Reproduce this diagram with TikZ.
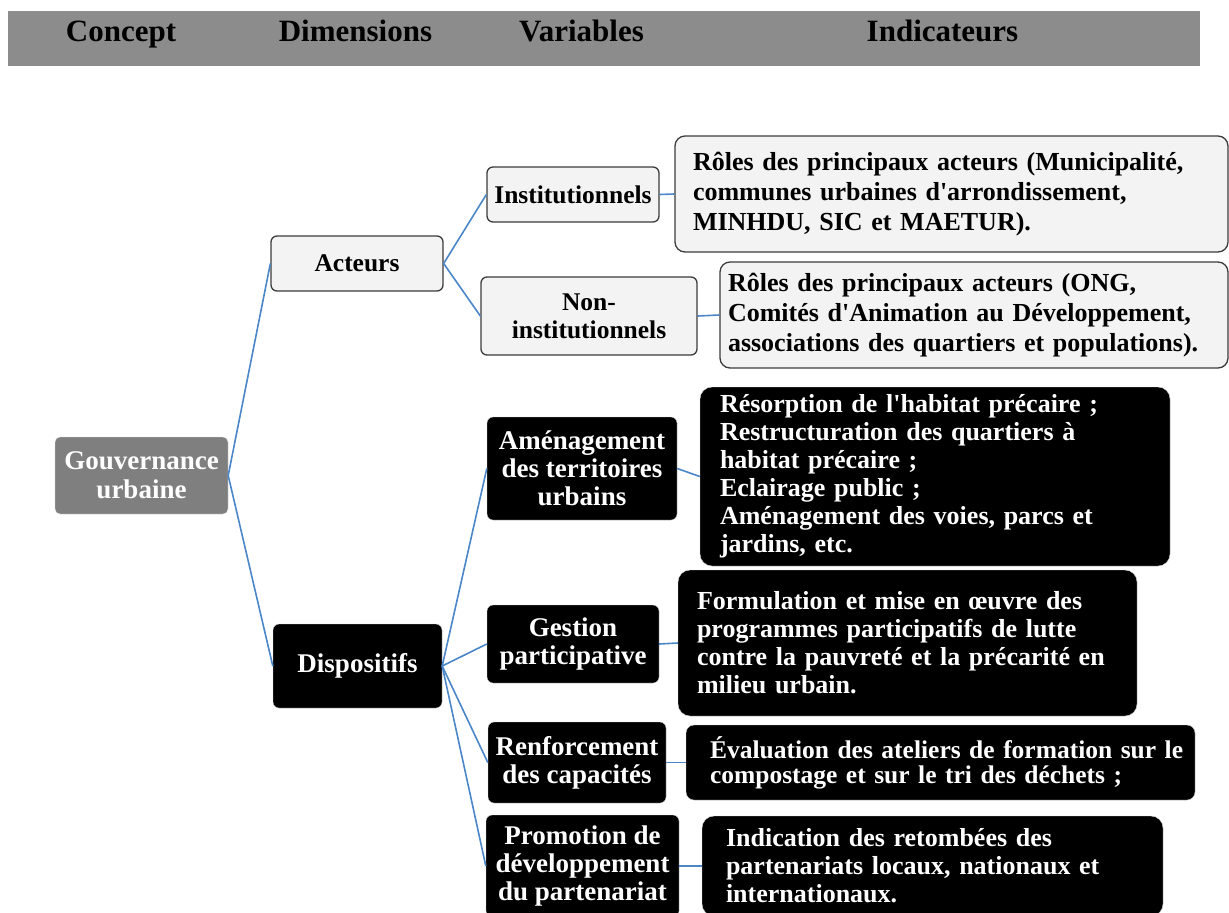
\documentclass[tikz,border=0pt]{standalone}
\usepackage{fontspec}
\setmainfont{Liberation Serif}
\usepackage{tikz}
\usetikzlibrary{positioning}
\usepackage{xcolor}
\definecolor{HeadGray}{RGB}{140,140,140}
\definecolor{ConceptGray}{RGB}{127,127,127}
\definecolor{LightFill}{RGB}{243,243,243}
\definecolor{EdgeGray}{RGB}{60,60,60}
\definecolor{LinkBlue}{RGB}{74,134,200}

\begin{document}
\begin{tikzpicture}[x=1pt,y=-1pt,
  head/.style={anchor=base,font=\fontsize{31}{34}\selectfont\bfseries},
  concept/.style={fill=ConceptGray,draw=white!88!black,rounded corners=5pt,text=white,
                  align=center,inner sep=0pt,font=\fontsize{27}{29}\selectfont\bfseries},
  varlight/.style={fill=LightFill,draw=EdgeGray,line width=1.3pt,rounded corners=6pt,
                   align=center,inner sep=0pt,font=\fontsize{25.5}{28}\selectfont\bfseries},
  vardark/.style={fill=black,draw=white!85!black,rounded corners=6pt,text=white,
                  align=center,inner sep=0pt,font=\fontsize{27}{28}\selectfont\bfseries},
  indlight/.style={fill=LightFill,draw=EdgeGray,line width=1.3pt,rounded corners=10pt,
                   align=left,inner ysep=0pt,font=\fontsize{26}{30}\selectfont\bfseries},
  inddark/.style={fill=black,draw=white!85!black,rounded corners=12pt,text=white,
                  align=left,inner ysep=0pt,font=\fontsize{26}{28}\selectfont\bfseries},
  link/.style={draw=LinkBlue,line width=1.6pt}
]
\useasboundingbox (0,0) rectangle (1229,913);
\fill[HeadGray] (8,11) rectangle (1200,66);
\node[head] (hconcept) at (121,41) {Concept};
\node[head] (hdim) at (355.5,41) {Dimensions};
\node[head] (hvar) at (581.5,41) {Variables};
\node[head] (hind) at (942.5,41) {Indicateurs};

\node[concept,minimum width=173pt,minimum height=77pt] (gouv) at (141.5,475.5) {Gouvernance\\urbaine};

\node[varlight,minimum width=172pt,minimum height=55pt] (acteurs) at (357,263.5) {Acteurs};
\node[vardark,minimum width=169pt,minimum height=84pt] (disp) at (357.5,666) {Dispositifs};

\node[varlight,minimum width=172pt,minimum height=55pt] (inst) at (573,194.5) {Institutionnels};
\node[varlight,minimum width=216pt,minimum height=78pt] (noninst) at (589,316) {Non-\\institutionnels};
\node[vardark,minimum width=190pt,minimum height=103pt] (amen) at (582,468.5) {Aménagement\\des territoires\\urbains};
\node[vardark,minimum width=172pt,minimum height=78pt] (gest) at (573,644) {Gestion\\participative};
\node[vardark,minimum width=178pt,minimum height=81pt] (renf) at (577,762.5) {Renforcement\\des capacités};
\node[vardark,minimum width=193pt,minimum height=102pt] (promo) at (582.5,866) {Promotion de\\développement\\du partenariat};

\node[indlight,inner xsep=18pt,text width=517pt,minimum height=116pt] (roles1) at (951.5,194)
  {Rôles des principaux acteurs (Municipalité,\\communes urbaines d\textquotesingle arrondissement,\\MINHDU, SIC et MAETUR).};
\node[indlight,inner xsep=8pt,text width=492pt,minimum height=106pt] (roles2) at (974,315)
  {Rôles des principaux acteurs (ONG,\\Comités d\textquotesingle Animation au Développement,\\associations des quartiers et populations).};
\node[inddark,inner xsep=20pt,text width=430pt,minimum height=179pt] (resorp) at (935,476.5)
  {Résorption de l\textquotesingle habitat précaire ;\\Restructuration des quartiers à\\habitat précaire ;\\Eclairage public ;\\Aménagement des voies, parcs et\\jardins, etc.};
\node[inddark,inner xsep=19pt,text width=421pt,minimum height=146pt] (formu) at (907.5,643)
  {Formulation et mise en œuvre des\\programmes participatifs de lutte\\contre la pauvreté et la précarité en\\milieu urbain.};
\node[inddark,inner xsep=24pt,text width=461pt,minimum height=75pt,rounded corners=8pt,
      font=\fontsize{25.5}{25}\selectfont\bfseries] (evalu) at (940.5,762.5)
  {\mbox{Évaluation des ateliers de formation sur le}\\compostage et sur le tri des déchets ;};
\node[inddark,inner xsep=24pt,text width=413pt,minimum height=100pt] (indic) at (932.5,866)
  {Indication des retombées des\\partenariats locaux, nationaux et\\internationaux.};

\draw[link] (gouv.east) -- (acteurs.west);
\draw[link] (gouv.east) -- (disp.west);
\draw[link] (acteurs.east) -- (inst.west);
\draw[link] (acteurs.east) -- (noninst.west);
\draw[link] (disp.east) -- (amen.west);
\draw[link] (disp.east) -- (gest.west);
\draw[link] (disp.east) -- (renf.west);
\draw[link] (disp.east) -- (promo.west);
\draw[link] (inst.east) -- (roles1.west);
\draw[link] (noninst.east) -- (roles2.west);
\draw[link] (amen.east) -- (resorp.west);
\draw[link] (gest.east) -- (formu.west);
\draw[link] (renf.east) -- (evalu.west);
\draw[link] (promo.east) -- (indic.west);
\end{tikzpicture}
\end{document}
